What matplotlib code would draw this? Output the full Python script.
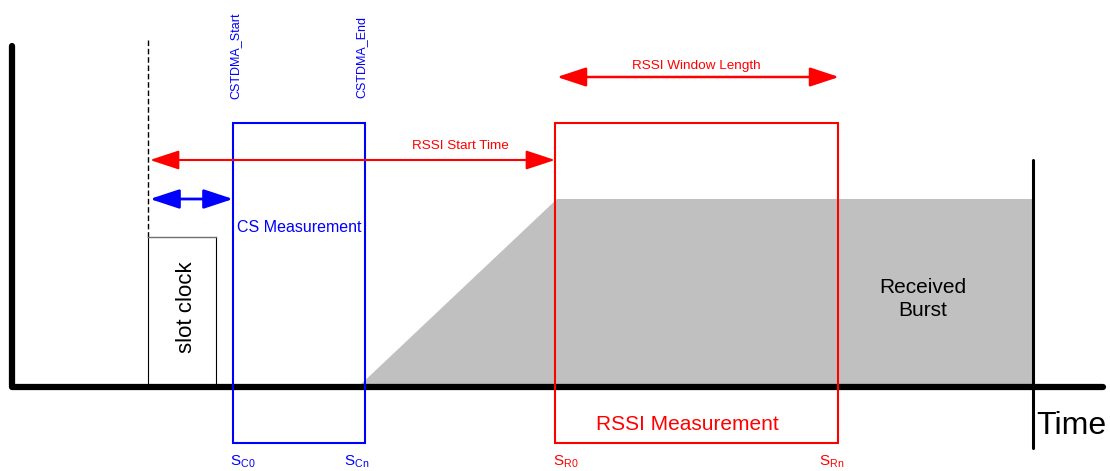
import matplotlib.pyplot as plt
from matplotlib.patches import Rectangle, Polygon

plt.rcParams['font.family'] = ['Liberation Sans', 'DejaVu Sans']

# diagram layout in pixel-like units (y grows downward)
baseline_y = 387
axis_left_x = 12
axis_end_x = 1103
axis_top_y = 46
time_end_x = 1033
slot_x = 148
slot_clock = (148, 237, 216)           # x0, top, x1
cs_box = (233, 123, 365, 443)          # x0, top, x1, bottom
rssi_box = (555, 123, 838, 443)
burst_x = [358, 557, 1033, 1033]
burst_y = [387, 199, 199, 387]
start_arrow_y = 160
cs_arrow_y = 199
window_arrow_y = 77
sample_labels = ['$\\mathregular{S_{C0}}$', '$\\mathregular{S_{Cn}}$',
                 '$\\mathregular{S_{R0}}$', '$\\mathregular{S_{Rn}}$']
sample_x = [230, 344, 553, 819]
sample_colors = ['blue', 'blue', 'red', 'red']

fig = plt.figure(figsize=(11.1, 4.71), dpi=100)
ax = fig.add_axes([0, 0, 1, 1])
ax.set_xlim(0, 1110)
ax.set_ylim(471, 0)
ax.axis('off')

# received burst
ax.add_patch(Polygon(list(zip(burst_x, burst_y)), closed=True, facecolor='#c0c0c0', edgecolor='none', zorder=1))

# axes lines
ax.plot([axis_left_x, axis_left_x, axis_end_x], [axis_top_y, baseline_y, baseline_y],
        color='black', lw=4.5, solid_capstyle='round', solid_joinstyle='round', zorder=3)
ax.plot([time_end_x, time_end_x], [160, 448], color='black', lw=2.2, solid_capstyle='round', zorder=3)
ax.text(1036, 426, 'Time', fontsize=23, va='center', ha='left')

# slot clock
ax.plot([slot_x, slot_x], [40, slot_clock[1]], color='black', lw=1, ls=(0, (4, 2)), zorder=2)
ax.plot([slot_clock[0], slot_clock[0]], [slot_clock[1], baseline_y], color='black', lw=0.8, zorder=2)
ax.plot([slot_clock[2], slot_clock[2]], [slot_clock[1], baseline_y], color='black', lw=0.8, zorder=2)
ax.plot([slot_clock[0], slot_clock[2]], [slot_clock[1], slot_clock[1]], color='#707070', lw=1, zorder=2)
ax.text(187, 307, 'slot clock', fontsize=16, rotation=90, ha='center', va='center')

# CS box
ax.add_patch(Rectangle((cs_box[0], cs_box[1]), cs_box[2] - cs_box[0], cs_box[3] - cs_box[1],
                       fill=False, edgecolor='blue', lw=1.5, zorder=4))
ax.text(299, 227, 'CS Measurement', color='blue', fontsize=11.5, ha='center', va='center')
ax.text(235, 56, 'CSTDMA_Start', color='blue', fontsize=9, rotation=90, ha='center', va='center')
ax.text(361, 57, 'CSTDMA_End', color='blue', fontsize=9, rotation=90, ha='center', va='center')

# RSSI box
ax.add_patch(Rectangle((rssi_box[0], rssi_box[1]), rssi_box[2] - rssi_box[0], rssi_box[3] - rssi_box[1],
                       fill=False, edgecolor='red', lw=1.5, zorder=4))
ax.text(687, 424, 'RSSI Measurement', color='red', fontsize=15, ha='center', va='center')

ax.text(923, 299, 'Received\nBurst', color='black', fontsize=15, ha='center', va='center', linespacing=1.3)

# arrows
def arrow(x0, x1, y, color, lw):
    ax.annotate('', xy=(x1, y), xytext=(x0, y),
                arrowprops=dict(arrowstyle='<|-|>,head_length=1.0,head_width=0.33',
                                mutation_scale=18, color=color, lw=lw,
                                shrinkA=0, shrinkB=0), zorder=5)

arrow(150, 555, start_arrow_y, 'red', 1.5)
ax.text(460, 146, 'RSSI Start Time', color='red', fontsize=9.7, ha='center', va='center')
arrow(150, 233, cs_arrow_y, 'blue', 2)
arrow(557, 839, window_arrow_y, 'red', 1.8)
ax.text(696, 66, 'RSSI Window Length', color='red', fontsize=9.7, ha='center', va='center')

for lbl, x, c in zip(sample_labels, sample_x, sample_colors):
    ax.text(x, 462, lbl, color=c, fontsize=11, ha='left', va='center')

fig.savefig('out.png', dpi=100)
